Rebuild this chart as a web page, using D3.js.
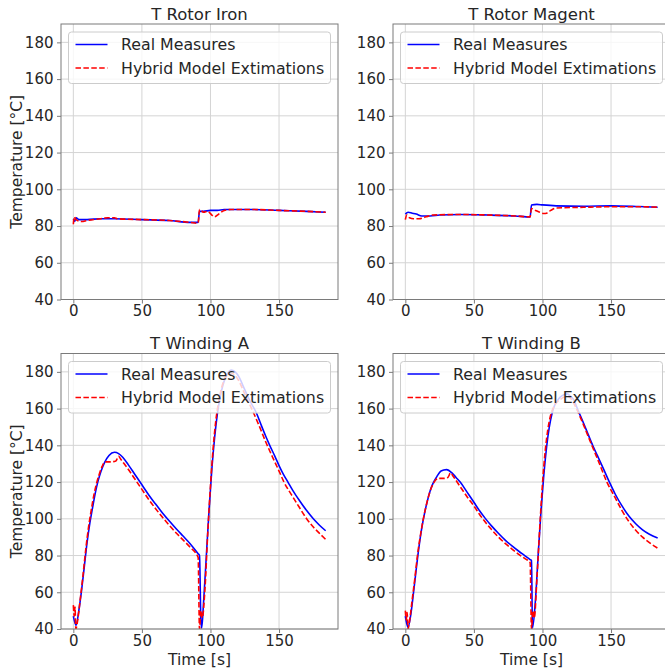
<!DOCTYPE html>
<html>
<head>
<meta charset="utf-8">
<script src="https://cdn.jsdelivr.net/npm/d3@7"></script>
<style>
  html, body { margin: 0; padding: 0; background: #fff; }
  svg { display: block; font-family: "DejaVu Sans", sans-serif; }
</style>
</head>
<body>
<svg id="chart" width="665" height="668"></svg>
<script>
// ---------------- data ----------------
const panelTitles = ["T Rotor Iron", "T Rotor Magent", "T Winding A", "T Winding B"];
const legendLabels = ["Real Measures", "Hybrid Model Extimations"];
const xTicks = [0, 50, 100, 150];
const yTicks = [40, 60, 80, 100, 120, 140, 160, 180];
const xLabel = "Time [s]";
const yLabel = "Temperature [°C]";

// [time (s), temperature (°C)]
const ironReal = [[0,84],[1,82.5],[2,84.5],[4,83.5],[10,83.5],[20,84],[30,84],[50,83.5],[70,83],[85,82],[91,82],
  [92,88],[95,88],[100,88.5],[105,88.5],[110,89],[120,89],[130,89],[150,88.5],[170,88],[184,87.5]];
const ironEst = [[0,81],[0.7,85],[1.5,84],[3,83],[6,82.5],[10,83],[20,84],[25,84.5],[30,84.5],[32,84],[50,83.5],
  [70,83],[85,82],[91,81.5],[92,89],[95,87.5],[98,88],[101,86],[103,85],[106,86.5],[110,88.5],[115,89],
  [130,89],[150,88.5],[170,88],[184,87.5]];

const magReal = [[0,86.5],[2,87.5],[5,87],[8,86.5],[12,85.5],[18,85.5],[25,86],[40,86.3],[60,86],[80,85.5],[91,85],
  [92,91.5],[96,91.8],[100,91.5],[110,91],[130,90.8],[150,91],[170,90.6],[184,90.2]];
const magEst = [[0,83.5],[1,86],[3,84.5],[6,84],[10,84],[15,85],[20,86],[40,86.3],[60,86],[80,85.5],[91,85],
  [92,89.5],[95,88.5],[98,87.5],[101,86.8],[103,87],[106,88.5],[110,89.8],[130,90.2],[150,90.5],[170,90.5],[184,90.3]];

const windAReal = [[0,47],[2,42],[4,50],[6,61],[8,74],[10,87],[12,97.5],[14,106],[16,114],[18,120.5],[20,125.5],
  [23,131],[26,134.5],[30,136.2],[33,135.5],[36,133.5],[40,129.5],[45,124],[50,118.5],[55,113],[60,108],
  [65,103.2],[70,98.8],[75,94.6],[80,90.6],[85,86.6],[91,81],[92,80],[93,45],[93.6,40.5],[95,55],[97,80],
  [99,105],[101,127],[103,144],[105,157],[107,166],[109,172.5],[111,177],[113,179.8],[115,181],[118,180],
  [121,177],[124,172],[127,167],[130,162.5],[133.5,157.6],[137,151],[140,145.5],[143.2,140],[147,134],[150,129],
  [153,124.5],[156.5,120],[160,115.5],[165,109.8],[170,104.6],[175,100],[179.5,96.5],[184,93.5]];
const windAEst = [[0,53],[0.7,47],[1.2,52],[1.8,40],[3,44],[5,56],[7,69],[9,83],[11,95],[13,104.5],[15,113],
  [17,119.5],[19,124.5],[21,128.5],[23,131],[27,131],[31,131.5],[33,134],[35,132],[40,127],[45,121.5],[50,116],
  [55,110.5],[60,105.5],[65,100.8],[70,96.4],[75,92.3],[80,88.5],[85,84.6],[91,79],[92,40],[93,50],[94,46],
  [96,62],[98,92],[100,118],[102,139],[104,154],[106,164],[108,171],[110,175.5],[113,178.5],[116,179],[120,176],
  [125,168],[130,160],[135,151.5],[140.8,141],[145,134],[150,126],[153.6,120],[160,112],[165,106],[170,100.2],
  [175,95.5],[180,91.7],[184,88.8]];

const windBReal = [[0,47],[1,43],[2,41],[4,48],[6,60],[8,73],[10,85],[12,95],[14,103],[16,109.5],[18,115],[20,119],
  [23,123],[26,126],[30,126.8],[34,125],[37,122.5],[40,120],[45,114.5],[50,109],[54,104.5],[58,100.5],[63,96],
  [68,92],[73,88.3],[78,85.1],[83,82.2],[87,80],[91,77.8],[92,77.3],[92.7,40.5],[95,57],[97,82],[99,105],
  [101,124],[103,139],[105,150],[107,157.5],[109,162],[111,164.5],[113,166.3],[116,167.7],[118,168],[120,167],
  [122.6,165],[126,159],[130,152],[133,146.5],[136.6,140],[140,134.5],[144,128],[148.8,120],[153,113.5],
  [158,107],[163,101.5],[168,97.3],[173,94],[178,91.6],[184,89.6]];
const windBEst = [[0,50],[0.7,45],[1.3,49],[2,40],[3,44],[5,56],[7,68],[9,81],[11,91],[13,99.5],[15,106.5],
  [17,112.5],[19,117],[21,120],[24,122],[28,122],[31,122.5],[33,125],[35,123],[40,117.5],[45,112],[50,107],
  [54,102.5],[58,98.5],[63,94],[68,90],[73,86.5],[78,83.4],[83,80.5],[87,78.4],[91,76.2],[92,40],[93,50],
  [94,46],[96,68],[98,95],[100,119],[102,137],[104,149],[106,156.5],[108,160.5],[110,163],[113,165],[116,166.3],
  [119,166.5],[122,164],[126,158],[130,151],[136,140],[141,131],[147,120],[153,111.5],[158,104.5],[163,98.5],
  [168,93.8],[173,90],[178,87],[184,84]];

const panelData = [[ironReal, ironEst], [magReal, magEst], [windAReal, windAEst], [windBReal, windBEst]];

// ---------------- layout ----------------
const svg = d3.select("#chart");
const PW = 277, PH = 275.5;
const origins = [[61, 24], [393, 24], [61, 353.5], [393, 353.5]];
const frameColor = "#7a7a7a", textColor = "#262626", gridColor = "#d4d4d4";
const blue = "#0000ff", red = "#ff0000";

const defs = svg.append("defs");

panelTitles.forEach((title, i) => {
  const [x0, y0] = origins[i];
  const x = d3.scaleLinear().domain([-9, 193]).range([x0, x0 + PW]);
  const y = d3.scaleLinear().domain([40, 190]).range([y0 + PH, y0]);
  const g = svg.append("g");

  // grid
  g.append("g").selectAll("line").data(xTicks).join("line")
    .attr("x1", d => x(d)).attr("x2", d => x(d)).attr("y1", y0).attr("y2", y0 + PH)
    .attr("stroke", gridColor).attr("stroke-width", 1);
  g.append("g").selectAll("line").data(yTicks).join("line")
    .attr("x1", x0).attr("x2", x0 + PW).attr("y1", d => y(d)).attr("y2", d => y(d))
    .attr("stroke", gridColor).attr("stroke-width", 1);

  // clip
  defs.append("clipPath").attr("id", "clip" + i).append("rect")
    .attr("x", x0).attr("y", y0).attr("width", PW).attr("height", PH);

  const line = d3.line().x(d => x(d[0])).y(d => y(d[1])).curve(d3.curveMonotoneX);
  const [real, est] = panelData[i];
  const lg = g.append("g").attr("clip-path", `url(#clip${i})`);
  lg.append("path").datum(real).attr("d", line)
    .attr("fill", "none").attr("stroke", blue).attr("stroke-width", 1.6).attr("stroke-linejoin", "round");
  lg.append("path").datum(est).attr("d", line)
    .attr("fill", "none").attr("stroke", red).attr("stroke-width", 1.6)
    .attr("stroke-dasharray", "5.5,2.4").attr("stroke-linejoin", "round");

  // axes
  const xAxis = d3.axisBottom(x).tickValues(xTicks).tickSize(4).tickPadding(3).tickFormat(d3.format("d"));
  const yAxis = d3.axisLeft(y).tickValues(yTicks).tickSize(4).tickPadding(3.5).tickFormat(d3.format("d"));
  const ax = g.append("g").attr("transform", `translate(0,${y0 + PH})`).call(xAxis);
  const ay = g.append("g").attr("transform", `translate(${x0},0)`).call(yAxis);
  [ax, ay].forEach(a => {
    a.select(".domain").remove();
    a.selectAll(".tick line").attr("stroke", frameColor);
    a.selectAll(".tick text").attr("fill", textColor).style("font-size", "15px")
      .style("font-family", "DejaVu Sans, sans-serif");
  });
  ax.selectAll(".tick text").attr("dy", "0.66em");

  // frame
  g.append("rect").attr("x", x0).attr("y", y0).attr("width", PW).attr("height", PH)
    .attr("fill", "none").attr("stroke", frameColor).attr("stroke-width", 1);

  // title
  g.append("text").attr("x", x0 + PW / 2).attr("y", y0 - 4.5).attr("text-anchor", "middle")
    .attr("fill", textColor).style("font-size", "16.5px").text(title);

  // legend
  const leg = g.append("g").attr("transform", `translate(${x0 + 7.5},${y0 + 8})`);
  leg.append("rect").attr("width", 262).attr("height", 51.5).attr("rx", 3).attr("ry", 3)
    .attr("fill", "#ffffff").attr("fill-opacity", 0.8).attr("stroke", "#cccccc").attr("stroke-width", 1);
  const legendStyles = [{ c: blue, dash: null }, { c: red, dash: "5.5,2.4" }];
  legendLabels.forEach((lab, k) => {
    const ly = 12.5 + k * 23.5;
    leg.append("line").attr("x1", 7).attr("x2", 39).attr("y1", ly).attr("y2", ly)
      .attr("stroke", legendStyles[k].c).attr("stroke-width", 1.6)
      .attr("stroke-dasharray", legendStyles[k].dash);
    leg.append("text").attr("x", 52.5).attr("y", ly + 5.6).attr("fill", textColor)
      .style("font-size", "15.8px").text(lab);
  });

  // axis labels
  if (i >= 2) {
    g.append("text").attr("x", x0 + PW / 2).attr("y", 664.5).attr("text-anchor", "middle")
      .attr("fill", textColor).style("font-size", "15.5px").text(xLabel);
  }
  if (i % 2 === 0) {
    g.append("text").attr("transform", `translate(22,${y0 + PH / 2}) rotate(-90)`)
      .attr("text-anchor", "middle").attr("fill", textColor).style("font-size", "15.5px").text(yLabel);
  }
});
</script>
</body>
</html>
